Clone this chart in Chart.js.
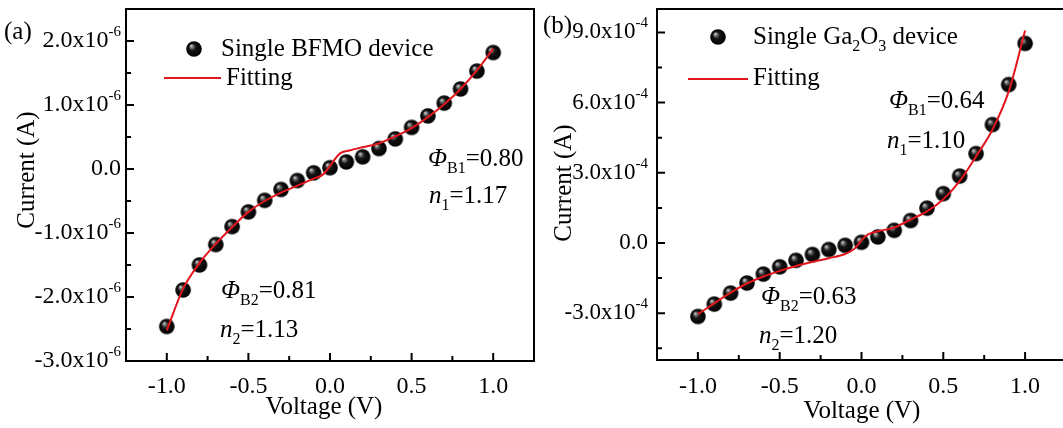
<!DOCTYPE html>
<html>
<head>
<meta charset="utf-8">
<script src="https://cdn.jsdelivr.net/npm/chart.js@4.4.0/dist/chart.umd.min.js"></script>
<style>
  html, body { margin: 0; padding: 0; background: #fff; overflow: hidden; width: 1063px; height: 428px; }
  canvas { position: absolute; top: 0; }
  #chart-a { left: 0; }
  #chart-b { left: 530px; }
</style>
</head>
<body>
<canvas id="chart-a" width="545" height="428"></canvas>
<canvas id="chart-b" width="545" height="428"></canvas>
<script>
// voltage sweep of the measured points (V)
const voltage = [-1.0, -0.9, -0.8, -0.7, -0.6, -0.5, -0.4, -0.3, -0.2, -0.1, 0.0,
                 0.1, 0.2, 0.3, 0.4, 0.5, 0.6, 0.7, 0.8, 0.9, 1.0];

// (a) single BFMO device (A)
const bfmoCurrent = [-2.46e-6, -1.89e-6, -1.50e-6, -1.18e-6, -0.90e-6, -0.67e-6, -0.49e-6, -0.32e-6, -0.18e-6, -0.06e-6, 0.02e-6,
                     0.11e-6, 0.19e-6, 0.32e-6, 0.47e-6, 0.65e-6, 0.83e-6, 1.03e-6, 1.25e-6, 1.53e-6, 1.82e-6];
const bfmoFitVoltage = [-1.0, -0.9, -0.8, -0.7, -0.6, -0.5, -0.4, -0.3, -0.2, -0.1, -0.04, 0.0,
                        0.06, 0.12, 0.2, 0.3, 0.4, 0.5, 0.6, 0.7, 0.8, 0.9, 1.0];
const bfmoFitCurrent = [-2.52e-6, -1.87e-6, -1.47e-6, -1.17e-6, -0.91e-6, -0.67e-6, -0.50e-6, -0.37e-6, -0.26e-6, -0.15e-6, -0.08e-6, 0.05e-6,
                        0.24e-6, 0.29e-6, 0.34e-6, 0.40e-6, 0.51e-6, 0.64e-6, 0.81e-6, 1.01e-6, 1.25e-6, 1.54e-6, 1.88e-6];

// (b) single Ga2O3 device (A)
const ga2o3Current = [-3.14e-4, -2.61e-4, -2.14e-4, -1.71e-4, -1.33e-4, -1.02e-4, -0.74e-4, -0.49e-4, -0.28e-4, -0.10e-4, 0.03e-4,
                      0.26e-4, 0.54e-4, 0.96e-4, 1.49e-4, 2.11e-4, 2.86e-4, 3.82e-4, 5.06e-4, 6.77e-4, 8.53e-4];
const ga2o3FitVoltage = [-1.0, -0.9, -0.8, -0.7, -0.6, -0.5, -0.4, -0.3, -0.2, -0.1, -0.04, 0.0,
                         0.04, 0.1, 0.2, 0.3, 0.4, 0.5, 0.6, 0.7, 0.8, 0.9, 1.0];
const ga2o3FitCurrent = [-3.04e-4, -2.58e-4, -2.12e-4, -1.73e-4, -1.43e-4, -1.19e-4, -0.98e-4, -0.81e-4, -0.65e-4, -0.47e-4, -0.23e-4, 0.12e-4,
                         0.37e-4, 0.50e-4, 0.66e-4, 1.00e-4, 1.35e-4, 1.87e-4, 2.64e-4, 3.70e-4, 4.84e-4, 6.48e-4, 9.08e-4];

// ticks
const xTicks = [-1.0, -0.5, 0.0, 0.5, 1.0];
const xMinorTicks = [-0.75, -0.25, 0.25, 0.75];
const bfmoYTicks = [-3e-6, -2e-6, -1e-6, 0, 1e-6, 2e-6];
const bfmoYMinorTicks = [-2.5e-6, -1.5e-6, -0.5e-6, 0.5e-6, 1.5e-6];
const ga2o3YTicks = [-3e-4, 0, 3e-4, 6e-4, 9e-4];
const ga2o3YMinorTicks = [-4.5e-4, -1.5e-4, 1.5e-4, 4.5e-4, 7.5e-4];

const serif = '"Liberation Serif", "Times New Roman", serif';
const fitRed = '#e2161d';

// black glossy ball used as the point marker
function makeSphere(r) {
  const c = document.createElement('canvas');
  const s = Math.ceil(r * 2) + 2;
  c.width = s; c.height = s;
  const g = c.getContext('2d');
  const cx = s / 2, cy = s / 2;
  const grad = g.createRadialGradient(cx - r * 0.38, cy - r * 0.42, 0, cx, cy, r);
  grad.addColorStop(0, '#f2f2f2');
  grad.addColorStop(0.18, '#808080');
  grad.addColorStop(0.45, '#151515');
  grad.addColorStop(1, '#000');
  g.fillStyle = grad;
  g.beginPath();
  g.arc(cx, cy, r, 0, Math.PI * 2);
  g.fill();
  return c;
}
const sphere = makeSphere(7.8);

// draw a run of text pieces: [text, kind] with kind '', 'i', 'sub', 'sup'
function drawRich(ctx, parts, x, y, size, align) {
  const fontFor = kind => {
    if (kind === 'sub') return '16px ' + serif;
    if (kind === 'sup') return '15px ' + serif;
    if (kind === 'i') return 'italic ' + size + 'px ' + serif;
    return size + 'px ' + serif;
  };
  let total = 0;
  parts.forEach(([t, kind]) => { ctx.font = fontFor(kind); total += ctx.measureText(t).width; });
  let cx = align === 'right' ? x - total : (align === 'center' ? x - total / 2 : x);
  ctx.textAlign = 'left';
  parts.forEach(([t, kind]) => {
    ctx.font = fontFor(kind);
    let dy = 0;
    if (kind === 'sub') dy = 7;
    if (kind === 'sup') dy = -9;
    ctx.fillText(t, cx, y + dy);
    cx += ctx.measureText(t).width;
  });
}

function toPoints(xs, ys) {
  return xs.map((v, i) => ({ x: v, y: ys[i] }));
}

function decorPlugin(panel) {
  return {
    id: 'panelDecor',
    afterDraw(chart) {
      const ctx = chart.ctx;
      const area = chart.chartArea;
      const xs = chart.scales.x, ys = chart.scales.y;
      ctx.save();
      ctx.fillStyle = '#000';
      ctx.strokeStyle = '#000';

      // frame
      ctx.lineWidth = 2;
      ctx.strokeRect(area.left, area.top, area.right - area.left, area.bottom - area.top);

      // inward ticks
      ctx.beginPath();
      xTicks.forEach(v => { const px = xs.getPixelForValue(v); ctx.moveTo(px, area.bottom); ctx.lineTo(px, area.bottom - 8); });
      xMinorTicks.forEach(v => { const px = xs.getPixelForValue(v); ctx.moveTo(px, area.bottom); ctx.lineTo(px, area.bottom - 5); });
      panel.yTicks.forEach(v => { const py = ys.getPixelForValue(v); ctx.moveTo(area.left, py); ctx.lineTo(area.left + 8, py); });
      panel.yMinorTicks.forEach(v => { const py = ys.getPixelForValue(v); ctx.moveTo(area.left, py); ctx.lineTo(area.left + 5, py); });
      ctx.stroke();

      // tick labels
      ctx.textBaseline = 'middle';
      xTicks.forEach(v => {
        drawRich(ctx, [[v.toFixed(1), '']], xs.getPixelForValue(v), 387, 24, 'center');
      });
      panel.yTicks.forEach(v => {
        const parts = v === 0 ? [['0.0', '']]
          : [[(v / Math.pow(10, panel.exp)).toFixed(1) + 'x10', ''], [String(panel.exp), 'sup']];
        drawRich(ctx, parts, area.left - panel.labelGap, ys.getPixelForValue(v), panel.yTickSize, 'right');
      });

      ctx.textBaseline = 'alphabetic';
      // axis titles
      drawRich(ctx, [['Voltage (V)', '']], panel.xTitle[0], panel.xTitle[1], 25, 'center');
      ctx.save();
      ctx.translate(panel.yTitle[0], panel.yTitle[1]);
      ctx.rotate(-Math.PI / 2);
      drawRich(ctx, [['Current (A)', '']], 0, 0, 25, 'center');
      ctx.restore();

      // panel tag
      drawRich(ctx, [[panel.tag[0], '']], panel.tag[1], panel.tag[2], 25, 'left');

      // legend
      const lg = panel.legendPos;
      ctx.drawImage(sphere, lg.marker[0] - sphere.width / 2, lg.marker[1] - sphere.height / 2);
      drawRich(ctx, panel.legendText, lg.text[0], lg.text[1], 25, 'left');
      ctx.strokeStyle = fitRed;
      ctx.lineWidth = 2;
      ctx.beginPath();
      ctx.moveTo(lg.line[0], lg.line[2]);
      ctx.lineTo(lg.line[1], lg.line[2]);
      ctx.stroke();
      drawRich(ctx, [['Fitting', '']], lg.fit[0], lg.fit[1], 25, 'left');

      // barrier height / ideality factor notes
      panel.notes.forEach(n => drawRich(ctx, n.parts, n.x, n.y, 25, 'left'));
      ctx.restore();
    }
  };
}

function buildChart(canvasId, panel) {
  return new Chart(document.getElementById(canvasId), {
    type: 'scatter',
    data: {
      datasets: [
        {
          label: 'Fitting',
          data: toPoints(panel.fitX, panel.fitY),
          showLine: true,
          borderColor: fitRed,
          borderWidth: 2,
          pointRadius: 0,
          cubicInterpolationMode: 'monotone',
          order: 0
        },
        {
          label: panel.name,
          data: toPoints(voltage, panel.current),
          pointStyle: sphere,
          pointRadius: 8,
          order: 1
        }
      ]
    },
    options: {
      responsive: false,
      animation: false,
      events: [],
      layout: { padding: panel.padding },
      plugins: { legend: { display: false }, tooltip: { enabled: false } },
      scales: {
        x: {
          type: 'linear', min: -1.25, max: 1.25,
          grid: { display: false }, border: { display: false }, ticks: { display: false },
          afterFit: s => { s.height = panel.xAxisHeight; }
        },
        y: {
          type: 'linear', min: panel.yMin, max: panel.yMax,
          grid: { display: false }, border: { display: false }, ticks: { display: false },
          afterFit: s => { s.width = panel.yAxisWidth; }
        }
      }
    },
    plugins: [decorPlugin(panel)]
  });
}

buildChart('chart-a', {
  name: 'Single BFMO device',
  current: bfmoCurrent, fitX: bfmoFitVoltage, fitY: bfmoFitCurrent,
  yMin: -3e-6, yMax: 2.5e-6, exp: -6,
  yTicks: bfmoYTicks, yMinorTicks: bfmoYMinorTicks, yTickSize: 24,
  padding: { top: 7, right: 11, bottom: 0, left: 0 },
  yAxisWidth: 126, xAxisHeight: 67, labelGap: 5,
  xTitle: [324, 414], yTitle: [34, 170],
  tag: ['(a)', 4, 39],
  legendText: [['Single BFMO device', '']],
  legendPos: { marker: [194, 49], text: [221, 56], line: [164, 221, 78], fit: [226, 85] },
  notes: [
    { x: 428, y: 166, parts: [['\u03A6', 'i'], ['B1', 'sub'], ['=0.80', '']] },
    { x: 429, y: 203, parts: [['n', 'i'], ['1', 'sub'], ['=1.17', '']] },
    { x: 221, y: 298, parts: [['\u03A6', 'i'], ['B2', 'sub'], ['=0.81', '']] },
    { x: 220, y: 337, parts: [['n', 'i'], ['2', 'sub'], ['=1.13', '']] }
  ]
});

buildChart('chart-b', {
  name: 'Single Ga2O3 device',
  current: ga2o3Current, fitX: ga2o3FitVoltage, fitY: ga2o3FitCurrent,
  yMin: -5e-4, yMax: 10e-4, exp: -4,
  yTicks: ga2o3YTicks, yMinorTicks: ga2o3YMinorTicks, yTickSize: 23,
  padding: { top: 6, right: 8, bottom: 0, left: 0 },
  yAxisWidth: 127, xAxisHeight: 68, labelGap: 9,
  xTitle: [332, 418], yTitle: [41, 183],
  tag: ['(b)', 13, 33],
  legendText: [['Single Ga', ''], ['2', 'sub'], ['O', ''], ['3', 'sub'], [' device', '']],
  legendPos: { marker: [188, 37], text: [223, 44], line: [158, 218, 79], fit: [223, 85] },
  notes: [
    { x: 359, y: 108, parts: [['\u03A6', 'i'], ['B1', 'sub'], ['=0.64', '']] },
    { x: 357, y: 148, parts: [['n', 'i'], ['1', 'sub'], ['=1.10', '']] },
    { x: 231, y: 304, parts: [['\u03A6', 'i'], ['B2', 'sub'], ['=0.63', '']] },
    { x: 229, y: 343, parts: [['n', 'i'], ['2', 'sub'], ['=1.20', '']] }
  ]
});
</script>
</body>
</html>
